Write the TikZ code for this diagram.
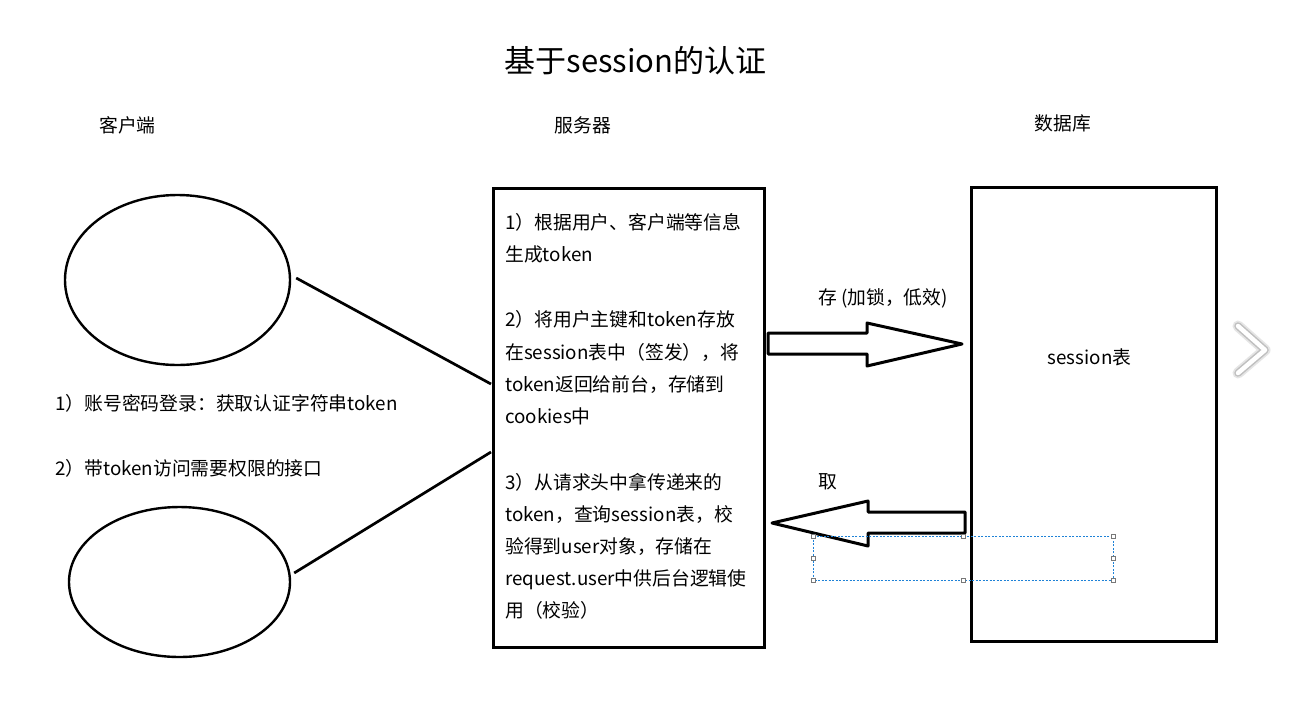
\documentclass[tikz,border=0pt]{standalone}
\usepackage{fontspec}
\newfontfamily\cjk{Noto Sans CJK SC}
\usetikzlibrary{shapes.geometric}
\definecolor{selblue}{RGB}{30,130,215}
\definecolor{handlegray}{RGB}{120,120,120}
\begin{document}
\begin{tikzpicture}[x=1pt,y=-1pt,
  txt/.style={font=\cjk\fontsize{18.8}{22}\selectfont, inner sep=0pt, anchor=base west},
  ctxt/.style={font=\cjk\fontsize{18.8}{22}\selectfont, inner sep=0pt, anchor=base},
  client/.style={ellipse, draw, line width=2.4pt, inner sep=0pt},
  bigbox/.style={draw, line width=3pt, inner sep=0pt},
  link/.style={line width=2.7pt},
  fatarrow/.style={draw, line width=3pt, line join=round, fill=white},
  handle/.style={draw=handlegray, fill=white, line width=0.5pt, minimum size=4pt, inner sep=0pt, rectangle}
]
\useasboundingbox[fill=white] (0,0) rectangle (1289,710);

% title
\node[font=\cjk\fontsize{31}{36}\selectfont, inner sep=0pt, anchor=base] (title) at (635.5,72) {基于session的认证};

% headers
\node[ctxt] (hclient) at (127.5,132) {客户端};
\node[ctxt] (hserver) at (583,132) {服务器};
\node[ctxt] (hdb) at (1063,130) {数据库};

% clients
\node[client, minimum width=225pt, minimum height=170pt] (c1) at (177.5,280) {};
\node[client, minimum width=221pt, minimum height=150pt] (c2) at (179.5,582) {};

\node[txt] (l1) at (55,410) {1）账号密码登录：获取认证字符串token};
\node[txt] (l2) at (55,475) {2）带token访问需要权限的接口};

% server box
\node[bigbox, minimum width=271pt, minimum height=459pt] (srv) at (628.5,417.5) {};
\coordinate (j1) at (491,384);
\coordinate (j2) at (491,452);
\draw[link] ([shift={(5,-2)}]c1.east) -- (j1);
\draw[link] ([shift={(3,-9)}]c2.east) -- (j2);

\node[txt] (s1) at (505,229) {1）根据用户、客户端等信息};
\node[txt] (s2) at (505,261) {生成token};
\node[txt] (s3) at (505,326) {2）将用户主键和token存放};
\node[txt] (s4) at (505,359) {在session表中（签发），将};
\node[txt] (s5) at (505,391) {token返回给前台，存储到};
\node[txt] (s6) at (505,423) {cookies中};
\node[txt] (s7) at (505,489) {3）从请求头中拿传递来的};
\node[txt] (s8) at (505,521) {token，查询session表，校};
\node[txt] (s9) at (505,553) {验得到user对象，存储在};
\node[txt] (s10) at (505,585) {request.user中供后台逻辑使};
\node[txt] (s11) at (505,617) {用（校验）};

% database box
\node[bigbox, minimum width=245pt, minimum height=454pt] (db) at (1093.5,414) {};
\node[ctxt] (tbl) at (1089.5,364) {session表};

% arrows
\draw[fatarrow] (768,333) -- (867,333) -- (867,323) -- (962,344) -- (867,366) -- (867,354) -- (768,354) -- cycle;
\node[txt] (store) at (818,304) {存 (加锁，低效)};
\draw[fatarrow] (772,523) -- (868,501) -- (868,512) -- (965,512) -- (965,533) -- (868,533) -- (868,546) -- cycle;
\node[txt] (fetch) at (818,488) {取};

% selection box
\draw[selblue, line width=0.8pt, dash pattern=on 2pt off 1.5pt] (813,536) rectangle (1113,580);
\foreach \hx/\hy [count=\i] in {813/536,963/536,1113/536,813/558,1113/558,813/580,963/580,1113/580}
  \node[handle] (h\i) at (\hx,\hy) {};

% chevron
\draw[line width=11pt, black!10, line cap=round, line join=round] (1238,326) -- (1265,350) -- (1238,373);
\draw[line width=7.5pt, black!25, line cap=round, line join=round] (1238,326) -- (1265,350) -- (1238,373);
\draw[line width=4.5pt, white, line cap=round, line join=round] (1238,326) -- (1265,350) -- (1238,373);
\end{tikzpicture}
\end{document}
